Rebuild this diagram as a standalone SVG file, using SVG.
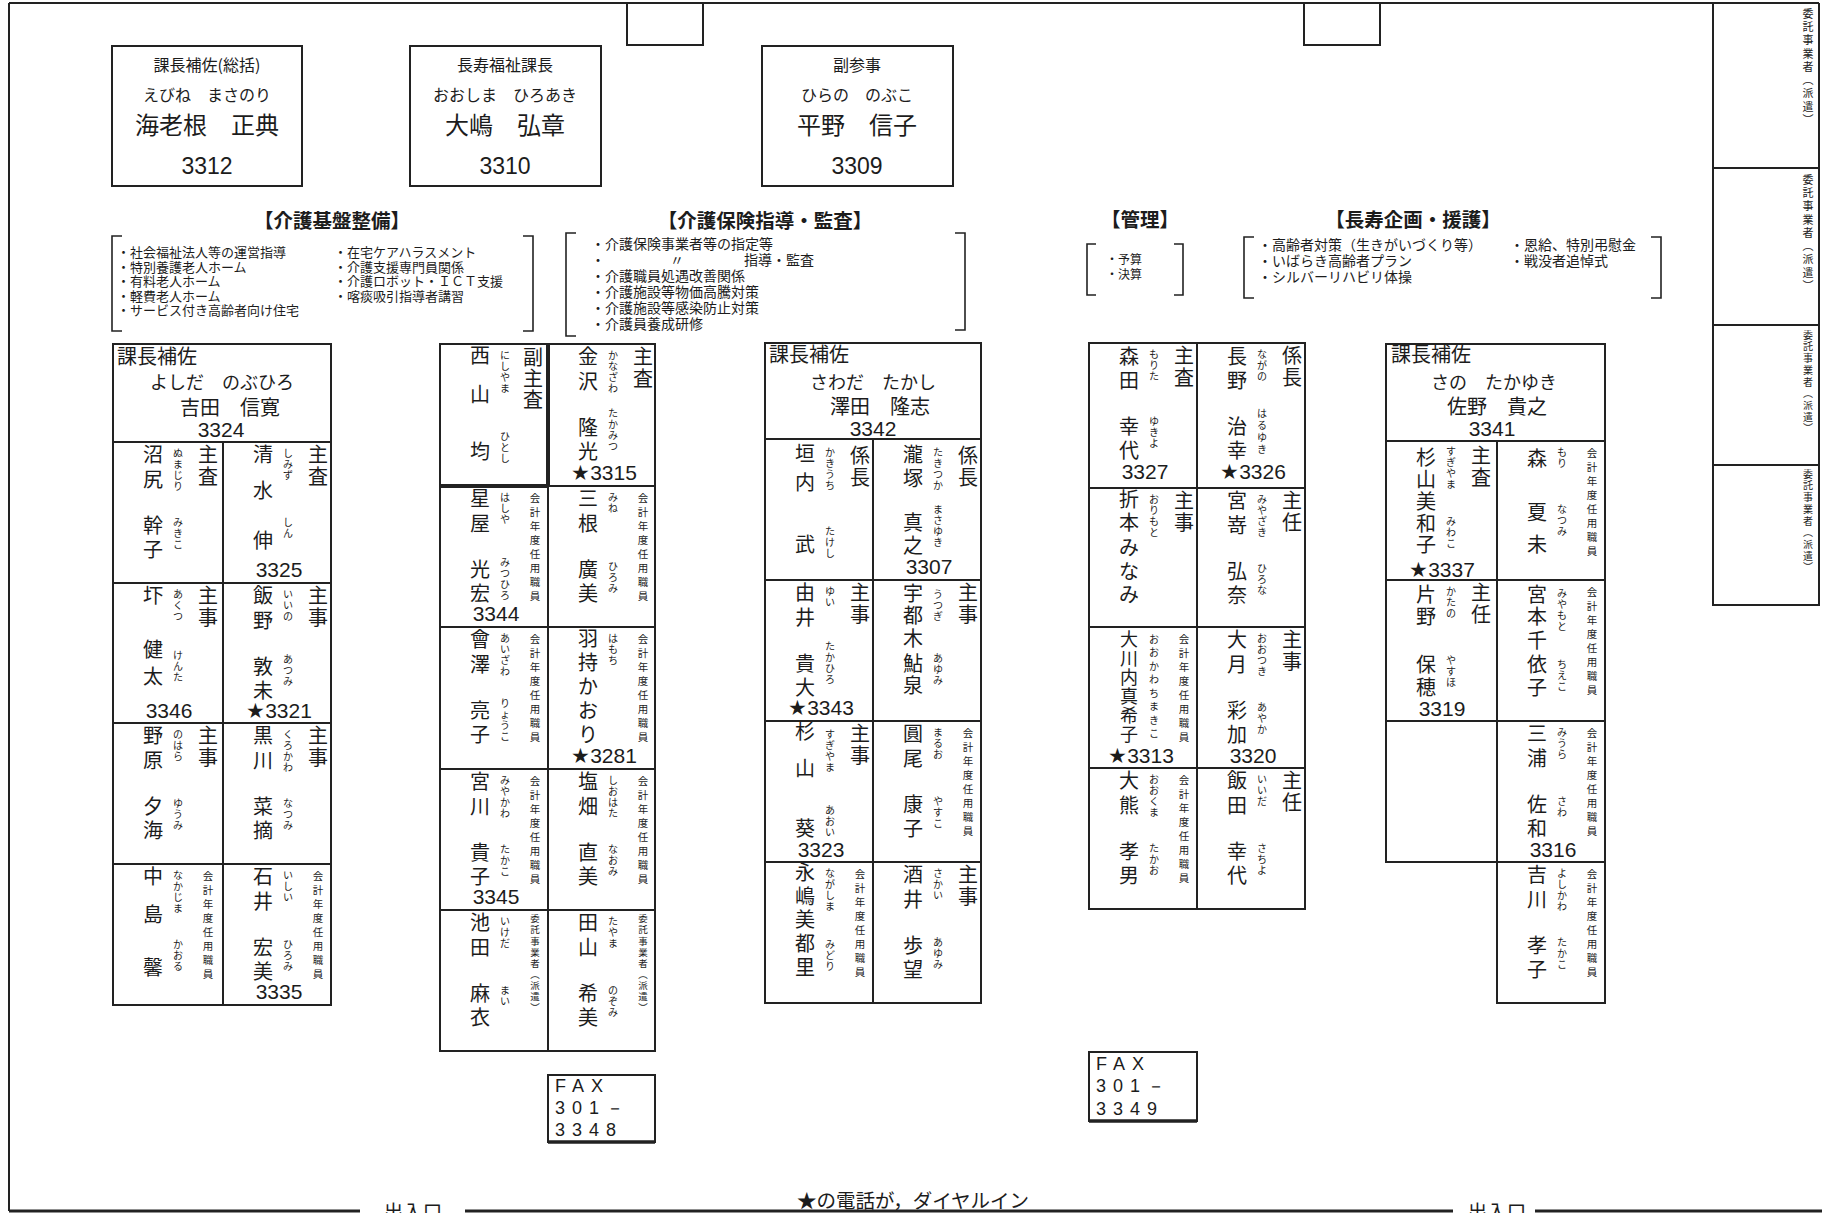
<svg xmlns="http://www.w3.org/2000/svg" width="1822" height="1213" viewBox="0 0 1822 1213">
<style>
text{font-family:"Noto Sans CJK JP","Noto Sans CJK SC",sans-serif;fill:#1c1c1c}
.ln{stroke:#222;stroke-width:2;fill:none}
.br{stroke:#222;stroke-width:1.6;fill:none}
.bx{stroke:#222;stroke-width:2;fill:#fff}
.n{font-size:20px;text-anchor:middle}
.n18{font-size:18px;text-anchor:middle}
.f{font-size:10px;text-anchor:middle}
.t{font-size:20px;text-anchor:middle}
.k{font-size:10.5px;text-anchor:middle}
.p{font-family:"Liberation Sans",Arial,sans-serif;font-size:21px;text-anchor:middle}
.v{writing-mode:vertical-rl;font-size:9.5px;letter-spacing:1.6px}
.hd{font-size:19.5px;font-weight:700;text-anchor:middle}
.i13{font-size:13px}.i12{font-size:12px}.i14{font-size:14px}
.h1{font-size:16px;text-anchor:middle}
.h2{font-size:24px;text-anchor:middle}
.h3{font-family:"Liberation Sans",Arial,sans-serif;font-size:23px;text-anchor:middle}
.th{font-size:20px}
.tf{font-size:18px;text-anchor:middle}
.tn{font-size:20px;text-anchor:middle}
.fax{font-family:"Liberation Sans",Arial,sans-serif;font-size:18px;letter-spacing:7px}
.bt{font-size:19.5px;text-anchor:middle}
</style>
<rect x="0" y="0" width="1822" height="1213" fill="#fff"/>

<g id="connectors">
<path class="ln" d="M9,3 H1819 M9,3 V1211"/>
<path d="M9,1211 H360 M465,1211 H1453 M1535,1211 H1822" stroke="#222" stroke-width="3" fill="none"/>
</g>

<g id="hang-1"><rect class="ln" x="627" y="3" width="76" height="42"/></g>
<g id="hang-2"><rect class="ln" x="1304" y="3" width="76" height="42"/></g>

<g id="right-col">
<path class="ln" d="M1713,3 V605 H1819 V3 M1713,168 H1819 M1713,325 H1819 M1713,465 H1819"/>
<text class="v" x="1808" y="8" style="font-size:11px;letter-spacing:2.3px">委託事業者（派遣）</text>
<text class="v" x="1808" y="174" style="font-size:11px;letter-spacing:2.3px">委託事業者（派遣）</text>
<text class="v" x="1808" y="330" style="font-size:10px;letter-spacing:1.7px">委託事業者（派遣）</text>
<text class="v" x="1808" y="469" style="font-size:10px;letter-spacing:1.7px">委託事業者（派遣）</text>
</g>

<g id="box-ebine"><rect class="bx" x="112" y="46" width="190" height="140"/>
<text class="h1" x="207" y="71">課長補佐(総括)</text><text class="h1" x="207" y="101">えびね　まさのり</text>
<text class="h2" x="207" y="134">海老根　正典</text><text class="h3" x="207" y="174">3312</text></g>
<g id="box-oshima"><rect class="bx" x="410" y="46" width="191" height="140"/>
<text class="h1" x="505" y="71">長寿福祉課長</text><text class="h1" x="505" y="101">おおしま　ひろあき</text>
<text class="h2" x="505" y="134">大嶋　弘章</text><text class="h3" x="505" y="174">3310</text></g>
<g id="box-hirano"><rect class="bx" x="762" y="46" width="191" height="140"/>
<text class="h1" x="857" y="71">副参事</text><text class="h1" x="857" y="101">ひらの　のぶこ</text>
<text class="h2" x="857" y="134">平野　信子</text><text class="h3" x="857" y="174">3309</text></g>

<g id="sec-kiban">
<text class="hd" x="332" y="228">【介護基盤整備】</text>
<path class="br" d="M122,236 H112 V331 H122 M523,236 H533 V331 H523"/>
<text class="i13" x="117" y="257">・社会福祉法人等の運営指導</text>
<text class="i13" x="117" y="272">・特別養護老人ホーム</text>
<text class="i13" x="117" y="286">・有料老人ホーム</text>
<text class="i13" x="117" y="301">・軽費老人ホーム</text>
<text class="i13" x="117" y="315">・サービス付き高齢者向け住宅</text>
<text class="i13" x="334" y="257">・在宅ケアハラスメント</text>
<text class="i13" x="334" y="272">・介護支援専門員関係</text>
<text class="i13" x="334" y="286">・介護ロボット・ＩＣＴ支援</text>
<text class="i13" x="334" y="301">・喀痰吸引指導者講習</text>
</g>

<g id="sec-hoken">
<text class="hd" x="765" y="228">【介護保険指導・監査】</text>
<path class="br" d="M576,233 H566 V336 H576 M955,233 H965 V330 H955"/>
<text class="i14" x="591" y="249">・介護保険事業者等の指定等</text>
<text class="i14" x="591" y="265">・</text><text class="i14" x="670" y="265">〃</text><text class="i14" x="744" y="265">指導・監査</text>
<text class="i14" x="591" y="281">・介護職員処遇改善関係</text>
<text class="i14" x="591" y="297">・介護施設等物価高騰対策</text>
<text class="i14" x="591" y="313">・介護施設等感染防止対策</text>
<text class="i14" x="591" y="329">・介護員養成研修</text>
</g>

<g id="sec-kanri">
<text class="hd" x="1140" y="227">【管理】</text>
<path class="br" d="M1096,244 H1087 V295 H1096 M1174,244 H1183 V295 H1174"/>
<text class="i12" x="1106" y="264">・予算</text>
<text class="i12" x="1106" y="279">・決算</text>
</g>

<g id="sec-choju">
<text class="hd" x="1413" y="227">【長寿企画・援護】</text>
<path class="br" d="M1254,237 H1244 V298 H1254 M1651,237 H1661 V298 H1651"/>
<text class="i14" x="1258" y="250">・高齢者対策（生きがいづくり等）</text>
<text class="i14" x="1258" y="266">・いばらき高齢者プラン</text>
<text class="i14" x="1258" y="282">・シルバーリハビリ体操</text>
<text class="i14" x="1510" y="250">・恩給、特別弔慰金</text>
<text class="i14" x="1510" y="266">・戦没者追悼式</text>
</g>

<!-- Table 1 -->
<g id="table-yoshida">
<path class="ln" d="M113,344 H331 V1005 H113 Z M113,442 H331 M113,583 H331 M113,723 H331 M113,864 H331 M223,442 V1005"/>
<text class="th" x="117" y="364">課長補佐</text>
<text class="tf" x="222" y="389">よしだ　のぶひろ</text>
<text class="tn" x="230" y="415">吉田　信寛</text>
<text class="p" x="221" y="437">3324</text>
</g>
<g id="numajiri" transform="translate(113,442)">
<text class="n" x="40 40 40 40" y="20 45 91 115">沼尻幹子</text>
<text class="f" x="65 65 65 65" y="15 26 37 48">ぬまじり</text>
<text class="f" x="65 65 65" y="84 95 106">みきこ</text>
<text class="t" x="95 95" y="20 42">主査</text>
</g>
<g id="shimizu" transform="translate(223,442)">
<text class="n" x="40 40 40" y="20 56 106">清水伸</text>
<text class="f" x="65 65 65" y="15 26 37">しみず</text>
<text class="f" x="65 65" y="84 95">しん</text>
<text class="t" x="95 95" y="20 42">主査</text>
<text class="p" x="56" y="135">3325</text>
</g>
<g id="akutsu" transform="translate(113,583)">
<text class="n" x="40 40 40" y="20 74 101">圷健太</text>
<text class="f" x="65 65 65" y="15 26 37">あくつ</text>
<text class="f" x="65 65 65" y="76 87 98">けんた</text>
<text class="t" x="95 95" y="20 42">主事</text>
<text class="p" x="56" y="135">3346</text>
</g>
<g id="iino" transform="translate(223,583)">
<text class="n" x="40 40 40 40" y="20 45 91 115">飯野敦未</text>
<text class="f" x="65 65 65" y="15 26 37">いいの</text>
<text class="f" x="65 65 65" y="80 91 102">あつみ</text>
<text class="t" x="95 95" y="20 42">主事</text>
<text class="p" x="56" y="135">★3321</text>
</g>
<g id="nohara" transform="translate(113,723)">
<text class="n" x="40 40 40 40" y="20 45 91 115">野原夕海</text>
<text class="f" x="65 65 65" y="15 26 37">のはら</text>
<text class="f" x="65 65 65" y="84 95 106">ゆうみ</text>
<text class="t" x="95 95" y="20 42">主事</text>
</g>
<g id="kurokawa" transform="translate(223,723)">
<text class="n" x="40 40 40 40" y="20 45 91 115">黒川菜摘</text>
<text class="f" x="65 65 65 65" y="15 26 37 48">くろかわ</text>
<text class="f" x="65 65 65" y="84 95 106">なつみ</text>
<text class="t" x="95 95" y="20 42">主事</text>
</g>
<g id="nakajima" transform="translate(113,864)">
<text class="n" x="40 40 40" y="20 58 111">中島馨</text>
<text class="f" x="65 65 65 65" y="15 26 37 48">なかじま</text>
<text class="f" x="65 65 65" y="84 95 106">かおる</text>
<text class="k" x="95 95 95 95 95 95 95 95" y="16 30 44 58 72 86 100 114">会計年度任用職員</text>
</g>
<g id="ishii" transform="translate(223,864)">
<text class="n" x="40 40 40 40" y="20 45 91 115">石井宏美</text>
<text class="f" x="65 65 65" y="15 26 37">いしい</text>
<text class="f" x="65 65 65" y="84 95 106">ひろみ</text>
<text class="k" x="95 95 95 95 95 95 95 95" y="16 30 44 58 72 86 100 114">会計年度任用職員</text>
<text class="p" x="56" y="135">3335</text>
</g>

<!-- Table 2 -->
<g id="table-hoken">
<path class="ln" d="M440,344 H655 V1051 H440 Z M440,486 H655 M440,627 H655 M440,769 H655 M440,910 H655 M548,486 V1051"/>
<path d="M548,344 V486 M440,486 H549" stroke="#222" stroke-width="4" fill="none"/>
</g>
<g id="nishiyama" transform="translate(440,344)">
<text class="n" x="40 40 40" y="19 58 115">西山均</text>
<text class="f" x="65 65 65 65" y="15 26 37 48">にしやま</text>
<text class="f" x="65 65 65" y="96 107 118">ひとし</text>
<text class="t" x="93 93 93" y="21 42 63">副主査</text>
</g>
<g id="kanazawa" transform="translate(548,344)">
<text class="n" x="40 40 40 40" y="20 45 91 115">金沢隆光</text>
<text class="f" x="65 65 65 65" y="15 26 37 48">かなざわ</text>
<text class="f" x="65 65 65 65" y="73 84 95 106">たかみつ</text>
<text class="t" x="95 95" y="20 42">主査</text>
<text class="p" x="56" y="136">★3315</text>
</g>
<g id="hoshiya" transform="translate(440,486)">
<text class="n" x="40 40 40 40" y="20 45 91 115">星屋光宏</text>
<text class="f" x="65 65 65" y="15 26 37">はしや</text>
<text class="f" x="65 65 65 65" y="80 91 102 113">みつひろ</text>
<text class="k" x="95 95 95 95 95 95 95 95" y="16 30 44 58 72 86 100 114">会計年度任用職員</text>
<text class="p" x="56" y="135">3344</text>
</g>
<g id="mine" transform="translate(548,486)">
<text class="n" x="40 40 40 40" y="20 45 91 115">三根廣美</text>
<text class="f" x="65 65" y="15 26">みね</text>
<text class="f" x="65 65 65" y="84 95 106">ひろみ</text>
<text class="k" x="95 95 95 95 95 95 95 95" y="16 30 44 58 72 86 100 114">会計年度任用職員</text>
</g>
<g id="aizawa" transform="translate(440,627)">
<text class="n" x="40 40 40 40" y="20 45 91 115">會澤亮子</text>
<text class="f" x="65 65 65 65" y="15 26 37 48">あいざわ</text>
<text class="f" x="65 65 65 65" y="80 91 102 113">りょうこ</text>
<text class="k" x="95 95 95 95 95 95 95 95" y="16 30 44 58 72 86 100 114">会計年度任用職員</text>
</g>
<g id="hamochi" transform="translate(548,627)">
<text class="n" x="40 40 40 40 40" y="19 43 67 91 115">羽持かおり</text>
<text class="f" x="65 65 65" y="15 26 37">はもち</text>
<text class="k" x="95 95 95 95 95 95 95 95" y="16 30 44 58 72 86 100 114">会計年度任用職員</text>
<text class="p" x="56" y="136">★3281</text>
</g>
<g id="miyakawa" transform="translate(440,769)">
<text class="n" x="40 40 40 40" y="20 45 91 115">宮川貴子</text>
<text class="f" x="65 65 65 65" y="15 26 37 48">みやかわ</text>
<text class="f" x="65 65 65" y="84 95 106">たかこ</text>
<text class="k" x="95 95 95 95 95 95 95 95" y="16 30 44 58 72 86 100 114">会計年度任用職員</text>
<text class="p" x="56" y="135">3345</text>
</g>
<g id="shiohata" transform="translate(548,769)">
<text class="n" x="40 40 40 40" y="20 45 91 115">塩畑直美</text>
<text class="f" x="65 65 65 65" y="15 26 37 48">しおはた</text>
<text class="f" x="65 65 65" y="84 95 106">なおみ</text>
<text class="k" x="95 95 95 95 95 95 95 95" y="16 30 44 58 72 86 100 114">会計年度任用職員</text>
</g>
<g id="ikeda" transform="translate(440,910)">
<text class="n" x="40 40 40 40" y="20 45 91 115">池田麻衣</text>
<text class="f" x="65 65 65" y="15 26 37">いけだ</text>
<text class="f" x="65 65" y="84 95">まい</text>
<text class="v" x="95" y="4">委託事業者（派遣）</text>
</g>
<g id="tayama" transform="translate(548,910)">
<text class="n" x="40 40 40 40" y="20 45 91 115">田山希美</text>
<text class="f" x="65 65 65" y="15 26 37">たやま</text>
<text class="f" x="65 65 65" y="84 95 106">のぞみ</text>
<text class="v" x="95" y="4">委託事業者（派遣）</text>
</g>

<!-- Table 3 -->
<g id="table-sawada">
<path class="ln" d="M765,343 H981 V1003 H765 Z M765,439 H981 M765,580 H981 M765,721 H981 M765,862 H981 M873,439 V1003"/>
<text class="th" x="769" y="362">課長補佐</text>
<text class="tf" x="873" y="389">さわだ　たかし</text>
<text class="tn" x="880" y="414">澤田　隆志</text>
<text class="p" x="873" y="436">3342</text>
</g>
<g id="kakiuchi" transform="translate(765,439)">
<text class="n" x="40 40 40" y="22 51 113">垣内武</text>
<text class="f" x="65 65 65 65" y="17 28 39 50">かきうち</text>
<text class="f" x="65 65 65" y="96 107 118">たけし</text>
<text class="t" x="95 95" y="24 46">係長</text>
</g>
<g id="takitsuka" transform="translate(873,439)">
<text class="n" x="40 40 40 40" y="23 47 91 114">瀧塚真之</text>
<text class="f" x="65 65 65 65" y="17 28 39 50">たきつか</text>
<text class="f" x="65 65 65 65" y="74 85 96 107">まさゆき</text>
<text class="t" x="95 95" y="24 46">係長</text>
<text class="p" x="56" y="135">3307</text>
</g>
<g id="yui" transform="translate(765,580)">
<text class="n" x="40 40 40 40" y="20 45 91 115">由井貴大</text>
<text class="f" x="65 65" y="15 26">ゆい</text>
<text class="f" x="65 65 65 65" y="70 81 92 103">たかひろ</text>
<text class="t" x="95 95" y="20 42">主事</text>
<text class="p" x="56" y="135">★3343</text>
</g>
<g id="utsugi" transform="translate(873,580)">
<text class="n" x="40 40 40 40 40" y="21 43 66 91 113">宇都木鮎泉</text>
<text class="f" x="65 65 65" y="18 29 40">うつぎ</text>
<text class="f" x="65 65 65" y="82 93 104">あゆみ</text>
<text class="t" x="95 95" y="20 42">主事</text>
</g>
<g id="sugiyama-aoi" transform="translate(765,721)">
<text class="n" x="40 40 40" y="18 55 115">杉山葵</text>
<text class="f" x="65 65 65 65" y="17 28 39 50">すぎやま</text>
<text class="f" x="65 65 65" y="93 104 115">あおい</text>
<text class="t" x="95 95" y="20 42">主事</text>
<text class="p" x="56" y="136">3323</text>
</g>
<g id="maruo" transform="translate(873,721)">
<text class="n" x="40 40 40 40" y="20 45 91 115">圓尾康子</text>
<text class="f" x="65 65 65" y="15 26 37">まるお</text>
<text class="f" x="65 65 65" y="84 95 106">やすこ</text>
<text class="k" x="95 95 95 95 95 95 95 95" y="16 30 44 58 72 86 100 114">会計年度任用職員</text>
</g>
<g id="nagashima" transform="translate(765,862)">
<text class="n" x="40 40 40 40 40" y="18 42 65 89 113">永嶋美都里</text>
<text class="f" x="65 65 65 65" y="15 26 37 48">ながしま</text>
<text class="f" x="65 65 65" y="86 97 108">みどり</text>
<text class="k" x="95 95 95 95 95 95 95 95" y="16 30 44 58 72 86 100 114">会計年度任用職員</text>
</g>
<g id="sakai" transform="translate(873,862)">
<text class="n" x="40 40 40 40" y="20 45 91 115">酒井歩望</text>
<text class="f" x="65 65 65" y="15 26 37">さかい</text>
<text class="f" x="65 65 65" y="84 95 106">あゆみ</text>
<text class="t" x="95 95" y="20 42">主事</text>
</g>

<!-- Table 4 -->
<g id="table-kanri">
<path class="ln" d="M1089,343 H1305 V909 H1089 Z M1089,488 H1305 M1089,627 H1305 M1089,768 H1305 M1197,343 V909"/>
</g>
<g id="morita" transform="translate(1089,343)">
<text class="n" x="40 40 40 40" y="21 45 91 115">森田幸代</text>
<text class="f" x="65 65 65" y="15 26 37">もりた</text>
<text class="f" x="65 65 65" y="82 93 104">ゆきよ</text>
<text class="t" x="95 95" y="20 42">主査</text>
<text class="p" x="56" y="136">3327</text>
</g>
<g id="nagano" transform="translate(1197,343)">
<text class="n" x="40 40 40 40" y="21 45 91 115">長野治幸</text>
<text class="f" x="65 65 65" y="15 26 37">ながの</text>
<text class="f" x="65 65 65 65" y="74 86 98 110">はるゆき</text>
<text class="t" x="95 95" y="20 42">係長</text>
<text class="p" x="56" y="136">★3326</text>
</g>
<g id="orimoto" transform="translate(1089,488)">
<text class="n" x="40 40 40 40 40" y="19 42 67 91 114">折本みなみ</text>
<text class="f" x="65 65 65 65" y="15 26 37 48">おりもと</text>
<text class="t" x="95 95" y="20 42">主事</text>
</g>
<g id="miyazaki" transform="translate(1197,488)">
<text class="n" x="40 40 40 40" y="20 45 91 115">宮嵜弘奈</text>
<text class="f" x="65 65 65 65" y="15 26 37 48">みやざき</text>
<text class="f" x="65 65 65" y="84 95 106">ひろな</text>
<text class="t" x="95 95" y="20 42">主任</text>
</g>
<g id="okawachi" transform="translate(1089,627)">
<text class="n18" x="40 40 40 40 40 40" y="19 38 57 76 95 114">大川内真希子</text>
<text class="f" x="65 65 65 65 65 65 65 65" y="16 29 43 56 70 83 97 110">おおかわちまきこ</text>
<text class="k" x="95 95 95 95 95 95 95 95" y="16 30 44 58 72 86 100 114">会計年度任用職員</text>
<text class="p" x="52" y="136">★3313</text>
</g>
<g id="otsuki" transform="translate(1197,627)">
<text class="n" x="40 40 40 40" y="20 45 91 115">大月彩加</text>
<text class="f" x="65 65 65 65" y="15 26 37 48">おおつき</text>
<text class="f" x="65 65 65" y="84 95 106">あやか</text>
<text class="t" x="95 95" y="20 42">主事</text>
<text class="p" x="56" y="136">3320</text>
</g>
<g id="okuma" transform="translate(1089,768)">
<text class="n" x="40 40 40 40" y="20 45 91 115">大熊孝男</text>
<text class="f" x="65 65 65 65" y="15 26 37 48">おおくま</text>
<text class="f" x="65 65 65" y="84 95 106">たかお</text>
<text class="k" x="95 95 95 95 95 95 95 95" y="16 30 44 58 72 86 100 114">会計年度任用職員</text>
</g>
<g id="iida" transform="translate(1197,768)">
<text class="n" x="40 40 40 40" y="20 45 91 115">飯田幸代</text>
<text class="f" x="65 65 65" y="15 26 37">いいだ</text>
<text class="f" x="65 65 65" y="84 95 106">さちよ</text>
<text class="t" x="95 95" y="20 42">主任</text>
</g>

<!-- Table 5 -->
<g id="table-sano">
<path class="ln" d="M1386,344 H1605 V1003 H1497 V862 H1386 Z M1386,441 H1605 M1386,580 H1605 M1386,721 H1605 M1386,862 H1605 M1497,441 V862"/>
<text class="th" x="1391" y="362">課長補佐</text>
<text class="tf" x="1494" y="389">さの　たかゆき</text>
<text class="tn" x="1497" y="414">佐野　貴之</text>
<text class="p" x="1492" y="436">3341</text>
</g>
<g id="sugiyama-miwako" transform="translate(1386,441)">
<text class="n" x="40 40 40 40 40" y="24 46 68 90 111">杉山美和子</text>
<text class="f" x="65 65 65 65" y="14 25 36 47">すぎやま</text>
<text class="f" x="65 65 65" y="84 95 106">みわこ</text>
<text class="t" x="95 95" y="22 44">主査</text>
<text class="p" x="56" y="136">★3337</text>
</g>
<g id="mori" transform="translate(1497,441)">
<text class="n" x="40 40 40" y="25 79 111">森夏未</text>
<text class="f" x="65 65" y="15 26">もり</text>
<text class="f" x="65 65 65" y="72 83 94">なつみ</text>
<text class="k" x="95 95 95 95 95 95 95 95" y="16 30 44 58 72 86 100 114">会計年度任用職員</text>
</g>
<g id="katano" transform="translate(1386,580)">
<text class="n" x="40 40 40 40" y="22 44 92 115">片野保穂</text>
<text class="f" x="65 65 65" y="15 26 37">かたの</text>
<text class="f" x="65 65 65" y="84 95 106">やすほ</text>
<text class="t" x="95 95" y="20 42">主任</text>
<text class="p" x="56" y="136">3319</text>
</g>
<g id="miyamoto" transform="translate(1497,580)">
<text class="n" x="40 40 40 40 40" y="22 44 68 92 115">宮本千依子</text>
<text class="f" x="65 65 65 65" y="17 28 39 50">みやもと</text>
<text class="f" x="65 65 65" y="88 99 110">ちえこ</text>
<text class="k" x="95 95 95 95 95 95 95 95" y="16 30 44 58 72 86 100 114">会計年度任用職員</text>
</g>
<g id="miura" transform="translate(1497,721)">
<text class="n" x="40 40 40 40" y="20 45 91 115">三浦佐和</text>
<text class="f" x="65 65 65" y="15 26 37">みうら</text>
<text class="f" x="65 65" y="84 95">さわ</text>
<text class="k" x="95 95 95 95 95 95 95 95" y="16 30 44 58 72 86 100 114">会計年度任用職員</text>
<text class="p" x="56" y="136">3316</text>
</g>
<g id="yoshikawa" transform="translate(1497,862)">
<text class="n" x="40 40 40 40" y="20 45 91 115">吉川孝子</text>
<text class="f" x="65 65 65 65" y="15 26 37 48">よしかわ</text>
<text class="f" x="65 65 65" y="84 95 106">たかこ</text>
<text class="k" x="95 95 95 95 95 95 95 95" y="16 30 44 58 72 86 100 114">会計年度任用職員</text>
</g>

<g id="fax-1">
<rect class="ln" x="548" y="1075" width="107" height="67"/>
<path d="M548,1142 H655" stroke="#222" stroke-width="3.5"/>
<text class="fax" x="555" y="1092">FAX</text>
<text class="fax" x="555" y="1114">301－</text>
<text class="fax" x="555" y="1136">3348</text>
</g>
<g id="fax-2">
<rect class="ln" x="1089" y="1052" width="108" height="69"/>
<path d="M1089,1121 H1197" stroke="#222" stroke-width="3.5"/>
<text class="fax" x="1096" y="1070">FAX</text>
<text class="fax" x="1096" y="1092">301－</text>
<text class="fax" x="1096" y="1115">3349</text>
</g>

<g id="footer">
<text class="bt" x="913" y="1208">★の電話が，ダイヤルイン</text>
<text class="bt" x="413" y="1219">出入口</text>
<text class="bt" x="1497" y="1219">出入口</text>
</g>
</svg>
